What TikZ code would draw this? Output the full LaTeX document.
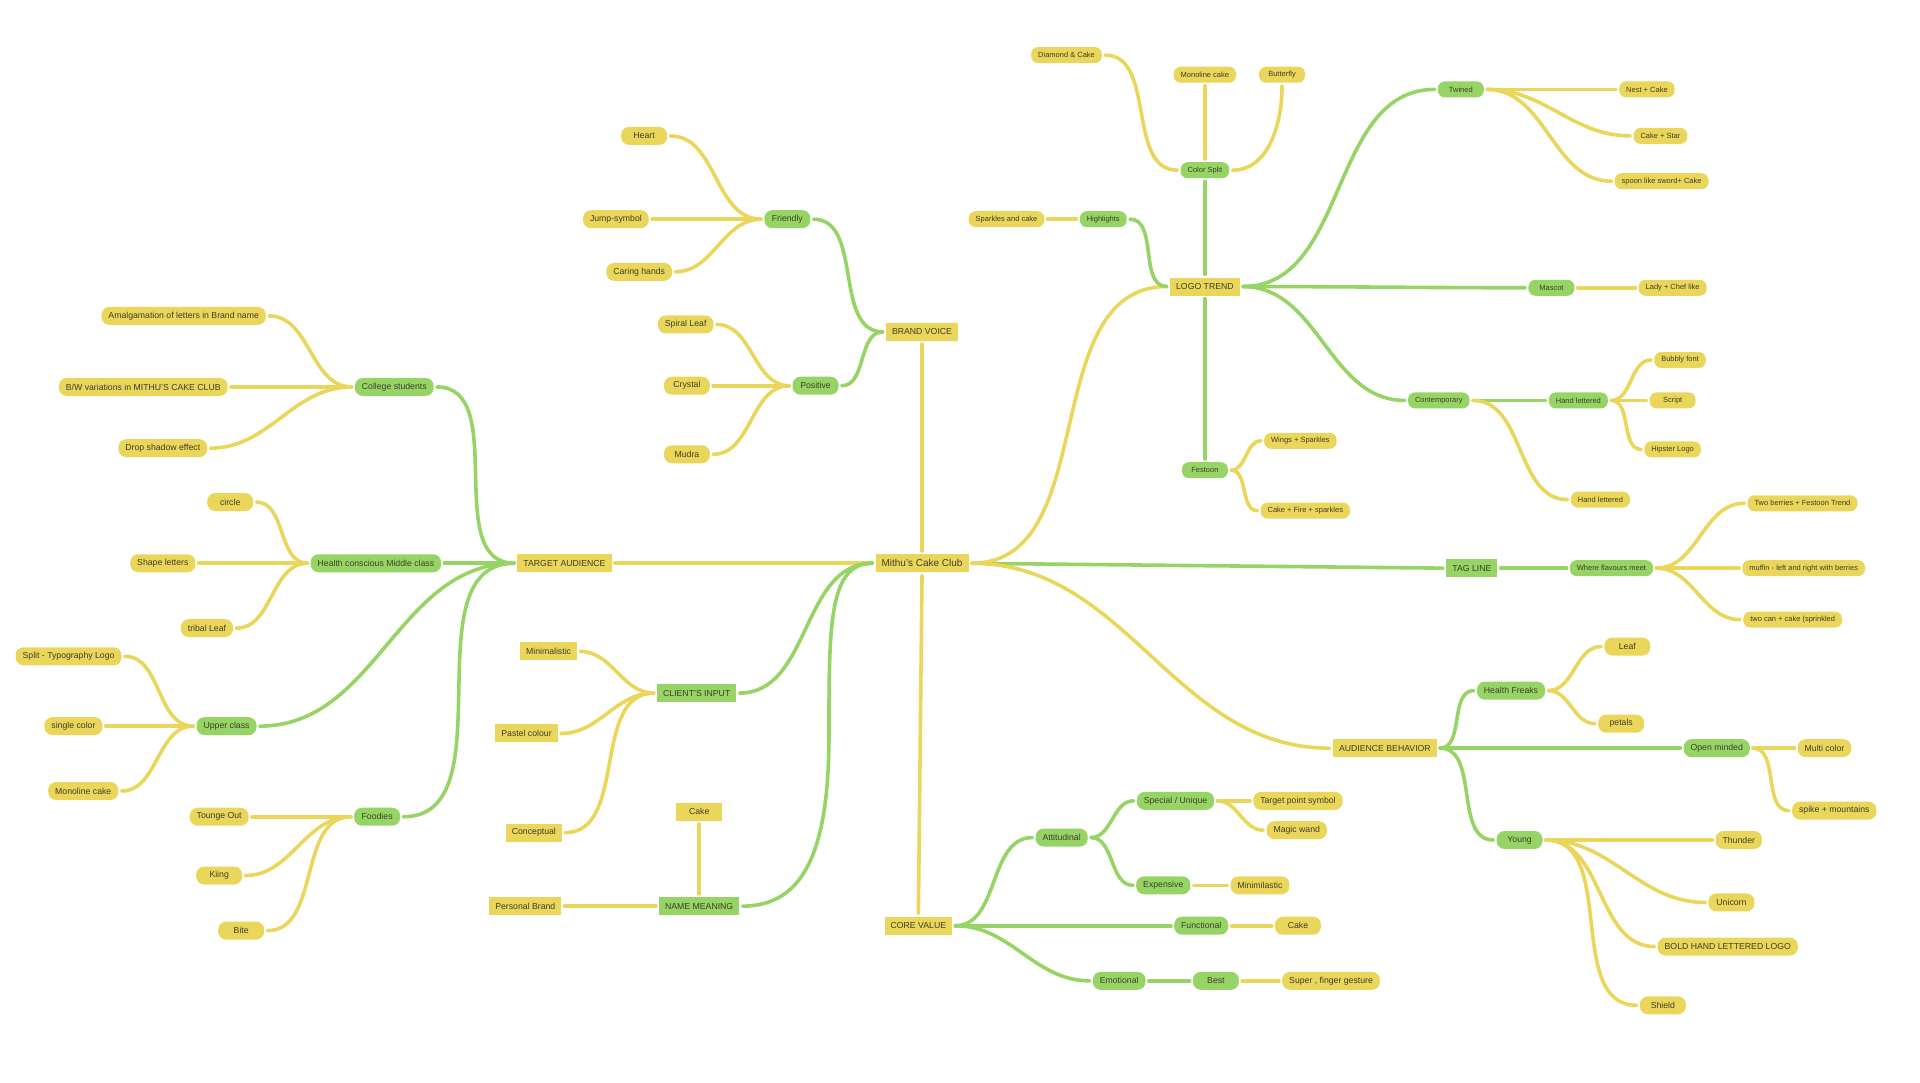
\documentclass[tikz,border=0pt]{standalone}
\usepackage{fontspec}
\setmainfont{Liberation Sans}
\usetikzlibrary{positioning}
\definecolor{MapYellow}{HTML}{E9D65B}
\definecolor{MapGreen}{HTML}{97D466}
\definecolor{MapText}{HTML}{3F3F2A}
\tikzset{
    % Box styles - square corners for topics, round for the rest
    hub/.style={
        rectangle,
        fill=MapYellow,
        text=MapText,
        minimum height=18pt,
        minimum width=46pt,
        inner xsep=6pt,
        inner ysep=2pt,
        font=\fontsize{10}{12}\selectfont
    },
    topicY/.style={
        hub,
        font=\fontsize{8.7}{10}\selectfont
    },
    topicG/.style={
        topicY,
        fill=MapGreen
    },
    leafY/.style={
        topicY,
        rounded corners=8pt,
        inner xsep=7pt
    },
    leafG/.style={
        leafY,
        fill=MapGreen
    },
    smallY/.style={
        leafY,
        minimum height=16pt,
        rounded corners=7pt,
        font=\fontsize{7.5}{9}\selectfont
    },
    smallG/.style={
        smallY,
        fill=MapGreen
    },
    % Link styles
    ylink/.style={
        draw=MapYellow,
        line width=3.6pt,
        line cap=round,
        shorten <=3pt,
        shorten >=3pt
    },
    glink/.style={
        ylink,
        draw=MapGreen
    }
}

\begin{document}
\begin{tikzpicture}[x=1.2245pt, y=-1.2245pt]
    \useasboundingbox (0,0) rectangle (1568,884);

    % centre and main topics
    \node[hub] (club) at (753,460) {Mithu's Cake Club};
    \node[topicY] (voice) at (753,271) {BRAND VOICE};
    \node[topicY] (trend) at (984,234) {LOGO TREND};
    \node[topicG] (tagline) at (1202,464) {TAG LINE};
    \node[topicY] (behavior) at (1131,611) {AUDIENCE BEHAVIOR};
    \node[topicY] (audience) at (461,460) {TARGET AUDIENCE};
    \node[topicG] (input) at (569,566) {CLIENT'S INPUT};
    \node[topicG] (meaning) at (571,740) {NAME MEANING};
    \node[topicY] (core) at (750,756) {CORE VALUE};
    \coordinate (nmbend) at (677,600);

    % brand voice
    \node[leafG] (friendly) at (643,179) {Friendly};
    \node[leafG] (positive) at (666,315) {Positive};
    \node[leafY] (heart) at (526,111) {Heart};
    \node[leafY] (jump) at (503,179) {Jump-symbol};
    \node[leafY] (caring) at (522,222) {Caring hands};
    \node[leafY] (spiral) at (560,265) {Spiral Leaf};
    \node[leafY] (crystal) at (561,315) {Crystal};
    \node[leafY] (mudra) at (561,371) {Mudra};

    % logo trend
    \node[smallG] (split) at (984,139) {Color Split};
    \node[smallY] (diamond) at (871,45) {Diamond \& Cake};
    \node[smallY] (monoline) at (984,61) {Monoline cake};
    \node[smallY] (butterfly) at (1047,61) {Butterfly};
    \node[smallG] (highlights) at (901,179) {Highlights};
    \node[smallY] (sparkles) at (822,179) {Sparkles and cake};
    \node[smallG] (twined) at (1193,73) {Twined};
    \node[smallY] (nest) at (1345,73) {Nest + Cake};
    \node[smallY] (star) at (1356,111) {Cake + Star};
    \node[smallY] (spoon) at (1357,148) {spoon like sword+ Cake};
    \node[smallG] (mascot) at (1267,235) {Mascot};
    \node[smallY] (lady) at (1366,235) {Lady + Chef like};
    \node[smallG] (contemp) at (1175,327) {Contemporary};
    \node[smallG] (handG) at (1289,327) {Hand lettered};
    \node[smallY] (handY) at (1307,408) {Hand lettered};
    \node[smallY] (bubbly) at (1372,294) {Bubbly font};
    \node[smallY] (script) at (1366,327) {Script};
    \node[smallY] (hipster) at (1366,367) {Hipster Logo};
    \node[smallG] (festoon) at (984,384) {Festoon};
    \node[smallY] (wings) at (1062,360) {Wings + Sparkles};
    \node[smallY] (fire) at (1066,417) {Cake + Fire + sparkles};

    % tag line
    \node[smallG] (flavours) at (1316,464) {Where flavours meet};
    \node[smallY] (berries) at (1472,411) {Two berries + Festoon Trend};
    \node[smallY] (muffin) at (1473,464) {muffin - left and right with berries};
    \node[smallY] (twocan) at (1464,506) {two can + cake (sprinkled};

    % audience behavior
    \node[leafG] (freaks) at (1234,564) {Health Freaks};
    \node[leafY] (leaf) at (1329,528) {Leaf};
    \node[leafY] (petals) at (1324,591) {petals};
    \node[leafG] (open) at (1402,611) {Open minded};
    \node[leafY] (multi) at (1490,611) {Multi color};
    \node[leafY] (spike) at (1498,662) {spike + mountains};
    \node[leafG] (young) at (1241,686) {Young};
    \node[leafY] (thunder) at (1420,686) {Thunder};
    \node[leafY] (unicorn) at (1414,737) {Unicorn};
    \node[leafY] (bold) at (1411,773) {BOLD HAND LETTERED LOGO};
    \node[leafY] (shield) at (1358,821) {Shield};

    % core value
    \node[leafG] (attitude) at (867,684) {Attitudinal};
    \node[leafG] (special) at (960,654) {Special / Unique};
    \node[leafY] (target) at (1060,654) {Target point symbol};
    \node[leafY] (wand) at (1059,678) {Magic wand};
    \node[leafG] (expensive) at (950,723) {Expensive};
    \node[leafY] (minimil) at (1029,723) {Minimilastic};
    \node[leafG] (functional) at (981,756) {Functional};
    \node[leafY] (cake) at (1060,756) {Cake};
    \node[leafG] (emotional) at (914,801) {Emotional};
    \node[leafG] (best) at (993,801) {Best};
    \node[leafY] (super) at (1087,801) {Super , finger gesture};

    % name meaning and client's input
    \node[topicY] (nmcake) at (571,663) {Cake};
    \node[topicY] (personal) at (429,740) {Personal Brand};
    \node[topicY] (minimal) at (448,532) {Minimalistic};
    \node[topicY] (pastel) at (430,599) {Pastel colour};
    \node[topicY] (concept) at (436,680) {Conceptual};

    % target audience
    \node[leafG] (college) at (322,316) {College students};
    \node[leafY] (amalgam) at (150,258) {Amalgamation of letters in Brand name};
    \node[leafY] (bw) at (117,316) {B/W variations in MITHU'S CAKE CLUB};
    \node[leafY] (shadow) at (133,366) {Drop shadow effect};
    \node[leafG] (middle) at (307,460) {Health conscious Middle class};
    \node[leafY] (circ) at (188,410) {circle};
    \node[leafY] (shapelet) at (133,460) {Shape letters};
    \node[leafY] (tribal) at (169,513) {tribal Leaf};
    \node[leafG] (upper) at (185,593) {Upper class};
    \node[leafY] (typo) at (56,536) {Split - Typography Logo};
    \node[leafY] (single) at (60,593) {single color};
    \node[leafY] (monocake) at (68,646) {Monoline cake};
    \node[leafG] (foodies) at (308,667) {Foodies};
    \node[leafY] (tongue) at (179,667) {Tounge Out};
    \node[leafY] (kiing) at (179,715) {Kiing};
    \node[leafY] (bite) at (197,760) {Bite};

    % links from the centre
    \draw[ylink] (club.north) -- (voice.south);
    \draw[ylink] (club.south) -- (core.north);
    \draw[ylink] (club.west) -- (audience.east);
    \draw[glink] (club.east) -- (tagline.west);
    \draw[ylink] (club.east) to[out=0,in=180] (trend.west);
    \draw[ylink] (club.east) to[out=0,in=180] (behavior.west);
    \draw[glink] (club.west) to[out=180,in=0] (input.east);
    \draw[glink] (club.west) .. controls +(-38,0) and +(0,-90) .. (nmbend)
        .. controls +(0,90) and +(55,0) .. (meaning.east);

    % brand voice links
    \foreach \n in {friendly,positive}
        \draw[glink] (voice.west) to[out=180,in=0] (\n.east);
    \foreach \n in {heart,jump,caring}
        \draw[ylink] (friendly.west) to[out=180,in=0] (\n.east);
    \foreach \n in {spiral,crystal,mudra}
        \draw[ylink] (positive.west) to[out=180,in=0] (\n.east);

    % logo trend links
    \draw[glink] (trend.north) -- (split.south);
    \draw[glink] (trend.south) -- (festoon.north);
    \draw[glink] (trend.west) to[out=180,in=0] (highlights.east);
    \foreach \n in {twined,mascot,contemp}
        \draw[glink] (trend.east) to[out=0,in=180] (\n.west);
    \draw[ylink] (split.north) -- (monoline.south);
    \draw[ylink] (split.west) to[out=180,in=0] (diamond.east);
    \draw[ylink] (split.east) to[out=0,in=-90] (butterfly.south);
    \draw[ylink] (highlights.west) -- (sparkles.east);
    \foreach \n in {nest,star,spoon}
        \draw[ylink] (twined.east) to[out=0,in=180] (\n.west);
    \draw[ylink] (mascot.east) -- (lady.west);
    \draw[glink] (contemp.east) -- (handG.west);
    \draw[ylink] (contemp.east) to[out=0,in=180] (handY.west);
    \foreach \n in {bubbly,script,hipster}
        \draw[ylink] (handG.east) to[out=0,in=180] (\n.west);
    \foreach \n in {wings,fire}
        \draw[ylink] (festoon.east) to[out=0,in=180] (\n.west);

    % tag line links
    \draw[glink] (tagline.east) -- (flavours.west);
    \foreach \n in {berries,muffin,twocan}
        \draw[ylink] (flavours.east) to[out=0,in=180] (\n.west);

    % audience behavior links
    \foreach \n in {freaks,open,young}
        \draw[glink] (behavior.east) to[out=0,in=180] (\n.west);
    \foreach \n in {leaf,petals}
        \draw[ylink] (freaks.east) to[out=0,in=180] (\n.west);
    \foreach \n in {multi,spike}
        \draw[ylink] (open.east) to[out=0,in=180] (\n.west);
    \foreach \n in {thunder,unicorn,bold,shield}
        \draw[ylink] (young.east) to[out=0,in=180] (\n.west);

    % core value links
    \foreach \n in {attitude,functional,emotional}
        \draw[glink] (core.east) to[out=0,in=180] (\n.west);
    \foreach \n in {special,expensive}
        \draw[glink] (attitude.east) to[out=0,in=180] (\n.west);
    \foreach \n in {target,wand}
        \draw[ylink] (special.east) to[out=0,in=180] (\n.west);
    \draw[ylink] (expensive.east) -- (minimil.west);
    \draw[ylink] (functional.east) -- (cake.west);
    \draw[glink] (emotional.east) -- (best.west);
    \draw[ylink] (best.east) -- (super.west);

    % client's input and name meaning links
    \foreach \n in {minimal,pastel,concept}
        \draw[ylink] (input.west) to[out=180,in=0] (\n.east);
    \draw[ylink] (meaning.west) -- (personal.east);
    \draw[ylink] (meaning.north) -- (nmcake.south);

    % target audience links
    \foreach \n in {college,middle,upper,foodies}
        \draw[glink] (audience.west) to[out=180,in=0] (\n.east);
    \foreach \n in {amalgam,bw,shadow}
        \draw[ylink] (college.west) to[out=180,in=0] (\n.east);
    \foreach \n in {circ,shapelet,tribal}
        \draw[ylink] (middle.west) to[out=180,in=0] (\n.east);
    \foreach \n in {typo,single,monocake}
        \draw[ylink] (upper.west) to[out=180,in=0] (\n.east);
    \foreach \n in {tongue,kiing,bite}
        \draw[ylink] (foodies.west) to[out=180,in=0] (\n.east);
\end{tikzpicture}
\end{document}
